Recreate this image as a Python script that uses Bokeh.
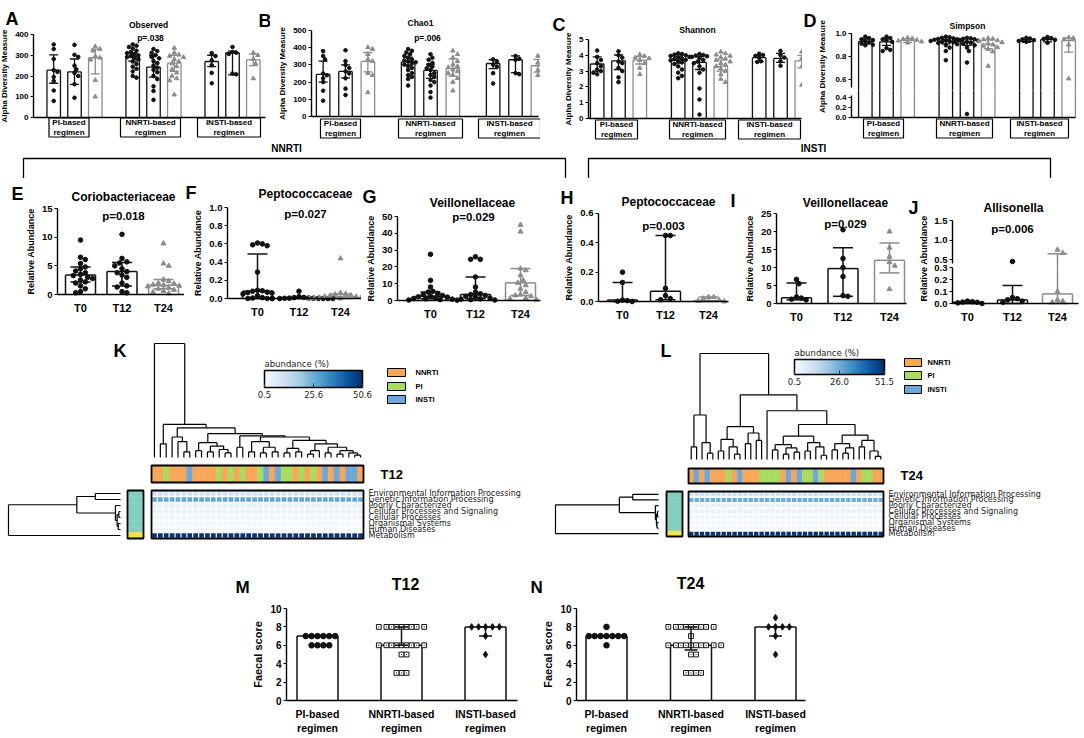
import math
from bokeh.plotting import figure
from bokeh.layouts import row, column
from bokeh.models import (Range1d, FixedTicker, NumeralTickFormatter, LinearAxis,
                          ColumnDataSource, LinearColorMapper, ColorBar)
from bokeh.transform import factor_cmap, transform
from bokeh.core.properties import value
from bokeh.embed import file_html
from bokeh.resources import INLINE
from bokeh.palettes import Blues256

FONT = "Liberation Sans"
HFONT = "DejaVu Sans"
BLACK = "#111111"
GREY = "#8c8c8c"

# ======================= DATA =======================
GROUP_LABELS = ["PI-based\nregimen", "NNRTI-based\nregimen", "INSTI-based\nregimen"]
TIME_LABELS = ["T0", "T12", "T24"]

# A  Observed  (PI T0,T12,T24 | NNRTI T0,T12,T24 | INSTI T0,T12,T24)
OBS_BAR = [228, 220, 288, 292, 243, 262, 270, 312, 278]
OBS_LO = [165, 160, 210, 272, 195, 222, 245, 205, 250]
OBS_HI = [302, 282, 330, 312, 300, 300, 300, 320, 305]
OBS_PTS = [
    [352, 330, 282, 228, 220, 195, 176, 130, 80],
    [350, 302, 292, 250, 232, 215, 200, 160, 95],
    [342, 330, 322, 295, 288, 278, 180, 100],
    [352, 346, 340, 332, 322, 316, 310, 305, 300, 296, 291, 286, 280, 270, 258, 245, 235, 222, 200, 192],
    [330, 320, 312, 300, 292, 285, 272, 262, 250, 240, 230, 218, 200, 185, 150, 128, 85],
    [335, 312, 302, 296, 290, 280, 270, 260, 246, 232, 216, 200, 188, 178, 110],
    [310, 296, 276, 252, 215, 165],
    [340, 316, 312, 306, 212, 208],
    [312, 300, 282, 260, 188],
]
# B  Chao1
CHAO_BAR = [245, 262, 320, 318, 268, 280, 308, 330, 295]
CHAO_LO = [200, 225, 260, 298, 222, 235, 278, 255, 258]
CHAO_HI = [322, 300, 372, 345, 305, 335, 330, 352, 332]
CHAO_PTS = [
    [380, 352, 332, 250, 240, 222, 200, 150, 92],
    [385, 322, 300, 282, 262, 250, 222, 162, 125],
    [402, 392, 362, 332, 322, 252, 240, 140],
    [392, 382, 372, 362, 352, 342, 332, 326, 320, 315, 310, 302, 292, 282, 270, 252, 240, 230, 218, 180],
    [362, 342, 330, 312, 300, 290, 280, 270, 252, 242, 230, 212, 200, 180, 142, 110],
    [382, 362, 342, 322, 302, 292, 285, 272, 262, 252, 240, 222, 200, 150],
    [332, 320, 302, 290, 252, 192],
    [352, 336, 330, 252, 246],
    [352, 330, 312, 290, 270, 240],
]
# C  Shannon
SHAN_BAR = [3.45, 3.65, 3.7, 3.7, 3.55, 3.3, 3.85, 3.8, 3.65]
SHAN_LO = [3.0, 3.1, 3.45, 3.5, 3.1, 3.0, 3.6, 3.55, 3.2]
SHAN_HI = [3.9, 4.02, 3.92, 3.95, 3.92, 3.7, 4.02, 4.12, 4.0]
SHAN_PTS = [
    [4.3, 3.9, 3.7, 3.5, 3.3, 3.1, 3.0, 2.9, 2.8],
    [4.25, 4.0, 3.85, 3.6, 3.5, 3.2, 3.0, 2.6, 2.3],
    [4.05, 3.95, 3.85, 3.8, 3.7, 3.5, 3.2, 2.8],
    [4.12, 4.08, 4.04, 4.0, 3.96, 3.9, 3.86, 3.8, 3.76, 3.72, 3.68, 3.62, 3.55, 3.45, 3.3, 3.1, 2.9, 2.7, 2.55],
    [4.08, 4.02, 3.98, 3.94, 3.9, 3.82, 3.7, 3.6, 3.5, 3.3, 3.1, 2.9, 1.9, 1.2, 0.25],
    [4.22, 4.12, 4.04, 3.96, 3.88, 3.78, 3.7, 3.6, 3.5, 3.4, 3.3, 3.15, 3.0, 2.8, 2.5, 2.3],
    [4.1, 4.02, 3.96, 3.85, 3.62, 3.58],
    [4.28, 4.02, 3.86, 3.62, 3.34],
    [4.22, 4.02, 3.82, 3.62, 3.3, 2.12],
]
# D  Simpson
SIMP_BAR = [0.935, 0.93, 0.942, 0.935, 0.93, 0.91, 0.935, 0.95, 0.94]
SIMP_LO = [0.912, 0.9, 0.925, 0.912, 0.9, 0.87, 0.925, 0.93, 0.84]
SIMP_HI = [0.955, 0.962, 0.958, 0.952, 0.958, 0.945, 0.948, 0.965, 0.962]
SIMP_PTS = [
    [0.975, 0.962, 0.952, 0.945, 0.935, 0.925, 0.915, 0.905, 0.9],
    [0.975, 0.962, 0.952, 0.942, 0.93, 0.875, 0.86, 0.85],
    [0.965, 0.958, 0.952, 0.946, 0.94, 0.932, 0.922],
    [0.975, 0.97, 0.965, 0.96, 0.955, 0.952, 0.948, 0.945, 0.942, 0.938, 0.934, 0.93, 0.926, 0.92, 0.91, 0.9, 0.88, 0.85, 0.77],
    [0.965, 0.96, 0.956, 0.952, 0.946, 0.94, 0.935, 0.93, 0.922, 0.912, 0.9, 0.88, 0.85, 0.75, 0.07],
    [0.962, 0.956, 0.95, 0.942, 0.935, 0.925, 0.915, 0.905, 0.895, 0.882, 0.865, 0.845, 0.72],
    [0.965, 0.958, 0.952, 0.945, 0.938, 0.93],
    [0.972, 0.962, 0.956, 0.948, 0.922],
    [0.968, 0.962, 0.952, 0.905, 0.61],
]
# E-G  NNRTI, T0 / T12 / T24
CORI_BAR = [3.4, 4.0, 1.6]
CORI_LO = [2.2, 1.5, 1.0]
CORI_HI = [4.8, 5.6, 2.6]
CORI_PTS = [
    [9.5, 6.5, 6.1, 5.4, 4.8, 4.5, 4.1, 3.8, 3.5, 3.3, 3.0, 2.8, 2.5, 2.2, 2.0, 1.5, 1.0, 0.5, 0.3],
    [10.5, 6.3, 5.7, 5.5, 5.0, 4.5, 4.0, 3.8, 3.4, 3.0, 2.0, 1.5, 1.3, 0.5, 0.3],
    [8.9, 5.4, 5.0, 2.6, 2.3, 2.0, 1.9, 1.7, 1.6, 1.5, 1.4, 1.2, 1.0, 0.8, 0.6, 0.4, 0.2],
]
PEPN_BAR = [0.08, 0.005, 0.02]
PEPN_LO = [0.0, 0.0, 0.0]
PEPN_HI = [0.49, 0.01, 0.05]
PEPN_PTS = [
    [0.61, 0.6, 0.59, 0.58, 0.29, 0.09, 0.085, 0.08, 0.07, 0.065, 0.06, 0.05, 0.03, 0.01, 0.005, 0.0, 0.0, 0.0],
    [0.08, 0.02, 0.012, 0.01, 0.006, 0.004, 0.003, 0.002, 0.001, 0.0, 0.0, 0.0, 0.0, 0.0],
    [0.44, 0.06, 0.05, 0.045, 0.035, 0.03, 0.02, 0.02, 0.015, 0.01, 0.01, 0.005, 0.003, 0.0, 0.0, 0.0],
]
VEIN_BAR = [2.5, 3.5, 10.5]
VEIN_LO = [1.0, 1.0, 3.0]
VEIN_HI = [5.0, 14.0, 19.0]
VEIN_PTS = [
    [27.5, 12.0, 8.0, 5.5, 5.0, 4.2, 3.5, 3.0, 2.5, 2.2, 2.0, 1.5, 1.2, 1.0, 0.8, 0.5, 0.3, 0.2],
    [26.0, 24.5, 24.5, 14.0, 8.0, 5.0, 4.0, 3.5, 3.0, 2.5, 2.0, 1.5, 1.0, 0.8, 0.5, 0.3],
    [45.0, 41.0, 19.0, 18.0, 15.0, 12.0, 10.5, 9.0, 7.0, 5.0, 3.5, 3.0, 2.5, 1.5, 1.0, 0.5],
]
# H-J  INSTI, T0 / T12 / T24
PEPI_BAR = [0.01, 0.07, 0.005]
PEPI_LO = [0.0, 0.012, 0.0]
PEPI_HI = [0.13, 0.45, 0.03]
PEPI_PTS = [[0.2, 0.13, 0.01, 0.006, 0.002, 0.0],
            [0.45, 0.45, 0.09, 0.04, 0.02, 0.012],
            [0.03, 0.03, 0.02, 0.01, 0.005, 0.0]]
VEII_BAR = [1.6, 9.7, 12.0]
VEII_LO = [1.0, 2.0, 8.5]
VEII_HI = [5.7, 15.5, 16.8]
VEII_PTS = [[6.7, 5.5, 1.8, 1.5, 1.2, 1.0],
            [20.5, 12.5, 10.0, 7.5, 2.2, 2.0],
            [20.0, 15.5, 13.0, 11.5, 10.5, 4.0]]
ALLI_BAR = [0.01, 0.03, 0.08]
ALLI_LO = [0.0, 0.0, 0.0]
ALLI_HI = [0.015, 0.15, 0.65]
ALLI_PTS = [[0.02, 0.015, 0.012, 0.01, 0.005, 0.0],
            [0.45, 0.05, 0.04, 0.03, 0.02, 0.01],
            [0.75, 0.67, 0.1, 0.03, 0.02, 0.01]]

# K / L heatmaps
HEAT_ROWS = ["Environmental Information Processing", "Genetic Information Processing",
             "Poorly Characterized", "Cellular Processes and Signaling", "Cellular Processes",
             "Organismal Systems", "Human Diseases", "Metabolism"]
K_HEAT = [10.0, 27.0, 5.0, 4.5, 3.0, 2.2, 1.8, 50.0]
L_HEAT = [10.5, 26.0, 5.0, 4.5, 3.0, 2.2, 1.8, 51.0]
SIDE_CLUSTER = ["cluster1", "cluster1", "cluster1", "cluster1", "cluster1", "cluster1", "cluster1", "cluster2"]
GROUP_NAMES = ["NNRTI", "PI", "INSTI"]
K_GROUPS = ["NNRTI", "NNRTI", "PI", "NNRTI", "NNRTI", "NNRTI", "INSTI", "NNRTI", "NNRTI", "NNRTI",
            "NNRTI", "PI", "NNRTI", "PI", "NNRTI", "PI", "NNRTI", "NNRTI", "PI", "INSTI",
            "NNRTI", "INSTI", "PI", "PI", "NNRTI", "PI", "NNRTI", "PI", "NNRTI", "INSTI",
            "NNRTI", "INSTI", "NNRTI", "INSTI", "INSTI", "NNRTI"]
L_GROUPS = ["NNRTI", "INSTI", "NNRTI", "INSTI", "NNRTI", "NNRTI", "NNRTI", "PI", "NNRTI", "INSTI",
            "NNRTI", "NNRTI", "NNRTI", "PI", "PI", "PI", "PI", "NNRTI", "INSTI", "NNRTI",
            "INSTI", "PI", "PI", "INSTI", "PI", "NNRTI", "NNRTI", "NNRTI", "NNRTI", "NNRTI",
            "INSTI", "NNRTI", "PI", "PI", "NNRTI", "NNRTI"]
o = None  # a leaf (leaves are numbered left to right)
K_C = (1.8, o, (1.4, o, (0.5, o, o)))
K_E = (1.3, (0.6, o, o), (1.0, (0.5, o, o), (0.7, o, (0.4, o, o))))
K_H1 = (1.4, (0.5, o, o), (0.9, (0.4, o, o), (0.5, o, o)))
K_H2 = (1.5, (0.8, (0.4, o, o), (0.5, o, o)),
        (1.2, (0.6, (0.3, o, o), o), (0.9, (0.4, o, o), (0.6, (0.3, o, o), (0.4, o, (0.2, o, o))))))
K_COL_TREE = (10.0, o, (2.9, (1.2, o, o), (2.6, K_C, (2.1, K_E, (1.9, (0.9, o, o), (1.8, K_H1, K_H2))))))
L_LEFT = (4.2, (1.2, o, o), (1.6, o, (0.6, o, o)))
L_A = (3.1, (1.9, (0.8, o, o), (1.2, o, (0.5, o, o))), (2.5, (1.5, o, o), (1.8, o, o)))
L_C1 = (2.2, (1.4, (0.9, o, o), (1.1, (0.5, o, o), (0.7, o, o))), (1.6, (0.8, o, o), (1.2, o, (0.4, o, o))))
L_C2 = (2.3, (1.5, (0.9, o, o), (1.1, (0.6, o, o), o)), (1.8, (1.2, o, o), (0.8, o, (0.3, o, o))))
L_COL_TREE = (10.0, L_LEFT, (6.1, L_A, (4.6, o, (3.3, L_C1, L_C2))))
K_ROW_TREE = (10.0, (3.9, (2.25, o, o), (0.45, o, (0.3, (0.15, o, o), (0.2, o, o)))), o)
L_ROW_TREE = (10.0, (3.8, (2.5, o, o), (0.3, o, (0.2, (0.1, o, o), (0.15, o, o)))), o)

# M / N faecal score (PI, NNRTI, INSTI)
M_BAR = [7, 6, 8]
M_LO = [7, 6, 7]
M_HI = [7, 8, 8]
M_PTS = [[7, 7, 7, 7, 7, 7, 6, 6, 6, 6],
         [8, 8, 8, 8, 8, 8, 8, 8, 8, 6, 6, 6, 6, 6, 6, 6, 6, 6, 5, 5, 3, 3, 3],
         [8, 8, 8, 8, 8, 7, 5]]
N_BAR = [7, 6, 8]
N_LO = [7, 5.5, 7]
N_HI = [7, 8, 8]
N_PTS = [[8, 7, 7, 7, 7, 7, 7, 7, 6],
         [8, 8, 8, 8, 8, 8, 8, 8, 8, 7, 6, 6, 6, 6, 6, 6, 6, 6, 6, 6, 5, 5, 3, 3, 3, 3],
         [9, 8, 8, 8, 8, 7, 5]]

# ======================= STYLE / HELPERS =======================
GROUP_COLORS = ["#f7a65a", "#a9dc5e", "#6ea7d8"]
SIDE_COLORS = ["#82cfbf", "#f3e34c"]
BIG = 1e9


def mkfig(box):
    """A figure whose frame is its whole canvas; its default ranges are page pixels (y negated)."""
    x0, y0, x1, y1 = box
    p = figure(width=x1 - x0, height=y1 - y0, x_range=Range1d(x0, x1), y_range=Range1d(-y1, -y0),
               x_axis_location=None, y_axis_location=None, min_border=0,
               output_backend="svg", toolbar_location=None)
    p.outline_line_color = None
    p.grid.visible = False
    return p


def add_xrange(p, box, xmap, name):
    a, A, u = xmap
    ex = dict(p.extra_x_ranges)
    ex[name] = Range1d(a + (box[0] - A) / u, a + (box[2] - A) / u)
    p.extra_x_ranges = ex


def add_yrange(p, box, ymap, name):
    b, B, k = ymap
    ey = dict(p.extra_y_ranges)
    ey[name] = Range1d(b + (B - box[3]) / k, b + (B - box[1]) / k)
    p.extra_y_ranges = ey


def ptext(p, items, size, align="center", baseline="middle", style="bold", font=FONT, angle=0.0):
    p.text(x=[it[1] for it in items], y=[-it[2] for it in items], text=[it[0] for it in items],
           text_font=value(font), text_font_size=value(size), text_font_style=style,
           text_align=align, text_baseline=baseline, angle=angle, text_color="black")


def style_axis(ax, fs, lab_fs=None, label=None, standoff=2):
    ax.axis_line_width = 1.4
    ax.axis_line_color = "black"
    ax.major_tick_line_width = 1.2
    ax.major_tick_line_color = "black"
    ax.major_tick_out = 3
    ax.major_tick_in = 0
    ax.minor_tick_line_color = None
    ax.major_label_text_font = FONT
    ax.major_label_text_font_style = "bold"
    ax.major_label_text_font_size = fs
    ax.major_label_text_color = "black"
    ax.major_label_standoff = standoff
    ax.axis_label_text_font = FONT
    ax.axis_label_text_font_style = "bold"
    ax.axis_label_text_color = "black"
    if label:
        ax.axis_label = label
        ax.axis_label_text_font_size = lab_fs
        ax.axis_label_standoff = 3


def add_yaxis(p, x_px, ticks, fmt, bounds, fs, label=None, lab_fs=None, yname="dy"):
    ax = LinearAxis(y_range_name=yname, fixed_location=x_px, bounds=bounds,
                    ticker=FixedTicker(ticks=ticks), formatter=NumeralTickFormatter(format=fmt))
    style_axis(ax, fs, lab_fs, label)
    p.add_layout(ax, "left")


def add_xaxis(p, y_px, ticks, overrides, bounds, fs, standoff=5):
    ax = LinearAxis(x_range_name="dx", fixed_location=-y_px, bounds=bounds, ticker=FixedTicker(ticks=ticks))
    style_axis(ax, fs, standoff=standoff)
    if overrides:
        ax.major_label_overrides = overrides
    ax.major_tick_line_color = None
    p.add_layout(ax, "below")


def swarm_offsets(vals, ypix, size, xunit, gap=1.05):
    placed = []
    out = [0.0] * len(vals)
    order = sorted(range(len(vals)), key=lambda i: -vals[i])
    step = size * gap * 0.5
    d2 = (size * gap) ** 2
    for i in order:
        y = ypix(vals[i])
        k = 0
        found = None
        while found is None:
            for c in ([0.0] if k == 0 else [k * step, -k * step]):
                if all((c - a) ** 2 + (y - b) ** 2 >= d2 for a, b in placed):
                    found = c
                    break
            k += 1
        placed.append((found, y))
        out[i] = found / xunit
    return out


def draw_bars(p, xs, bars, lo, hi, pts, cols, fills, marks, sizes, bar_w, cap_px, xunit, ypix, lw,
              yname="dy", ylo=-BIG, yhi=BIG):
    """Bars, swarm points and error bars for the part of the value axis between ylo and yhi."""
    kw = dict(x_range_name="dx", y_range_name=yname)
    hw = bar_w / 2.0
    fx, fb, ft = [], [], []
    ox0, oy0, ox1, oy1, oc = [], [], [], [], []
    for i, x in enumerate(xs):
        b0 = max(0.0, ylo)
        b1 = min(bars[i], yhi)
        if b1 > b0:
            fx.append(x)
            fb.append(b0)
            ft.append(b1)
            ox0 += [x - hw, x + hw]
            ox1 += [x - hw, x + hw]
            oy0 += [b0, b0]
            oy1 += [b1, b1]
            oc += [cols[i]] * 2
        if ylo <= bars[i] <= yhi:
            ox0.append(x - hw)
            ox1.append(x + hw)
            oy0.append(bars[i])
            oy1.append(bars[i])
            oc.append(cols[i])
    p.vbar(x=fx, bottom=fb, top=ft, width=bar_w, fill_color="white", line_color=None, **kw)
    p.segment(x0=ox0, y0=oy0, x1=ox1, y1=oy1, line_color=oc, line_width=lw, **kw)
    px, py, pc, pf, pm, ps = [], [], [], [], [], []
    for i, vals in enumerate(pts):
        offs = swarm_offsets(vals, ypix, sizes[i], xunit)
        for v, off in zip(vals, offs):
            if ylo <= v <= yhi:
                px.append(xs[i] + off)
                py.append(v)
                pc.append(cols[i])
                pf.append(fills[i])
                pm.append(marks[i])
                ps.append(sizes[i])
    src = ColumnDataSource(dict(x=px, y=py, c=pc, f=pf, m=pm, s=ps))
    p.scatter(x="x", y="y", marker="m", size="s", fill_color="f", line_color="c", line_width=1,
              source=src, **kw)
    cw = cap_px / 2.0 / xunit
    sx0, sy0, sx1, sy1, sc = [], [], [], [], []
    for i, x in enumerate(xs):
        if hi[i] > lo[i]:
            a = max(lo[i], ylo)
            b = min(hi[i], yhi)
            if b > a:
                sx0.append(x)
                sx1.append(x)
                sy0.append(a)
                sy1.append(b)
                sc.append(cols[i])
            for cap in (lo[i], hi[i]):
                if ylo <= cap <= yhi:
                    sx0.append(x - cw)
                    sx1.append(x + cw)
                    sy0.append(cap)
                    sy1.append(cap)
                    sc.append(cols[i])
    p.segment(x0=sx0, y0=sy0, x1=sx1, y1=sy1, line_color=sc, line_width=lw, **kw)


# ---------- A-D ----------
GSTEP = 3.8
AD_COLS = [BLACK, BLACK, GREY] * 3
AD_MARKS = ["circle", "circle", "triangle"] * 3
AD_SIZES = [3.6, 3.6, 4.4] * 3


def alpha_panel(box, axis_px, regions, pi_px, insti_px, bars, lo, hi, pts, ylabel, ypix,
                base_px, base_end, box_y, box_px, box_w):
    """regions: list of (range name, ymap, ylo, yhi, ticks, format, axis bounds)."""
    p = mkfig(box)
    u = (insti_px - pi_px) / (2 * GSTEP)
    add_xrange(p, box, (1, pi_px, u), "dx")
    xs = [g * GSTEP + t for g in range(3) for t in range(3)]
    for yn, ymap, ylo, yhi, ticks, fmt, bounds in regions:
        add_yrange(p, box, ymap, yn)
        yp = ypix if ypix is not None else (lambda v, kk=ymap[2]: v * kk)
        draw_bars(p, xs, bars, lo, hi, pts, AD_COLS, AD_COLS, AD_MARKS, AD_SIZES, 13.5 / u, 9, u, yp, 1.3,
                  yname=yn, ylo=ylo, yhi=yhi)
        add_yaxis(p, axis_px, ticks, fmt, bounds, "8px", "Alpha Diversity Measure" if ylabel else None,
                  "8px", yname=yn)
    add_xaxis(p, base_px, [], None, (1 + (axis_px - pi_px) / u, 1 + (base_end - pi_px) / u), "0px")
    p.rect(x=box_px, y=[-box_y] * 3, width=box_w, height=19, width_units="screen",
           height_units="screen", fill_color="white", line_color="black", line_width=1.2)
    p.text(x=box_px, y=[-box_y] * 3, text=GROUP_LABELS, text_align="center",
           text_baseline="middle", text_font=value(FONT), text_font_style="bold",
           text_font_size=value("8px"), text_line_height=1.05)
    return p


def d_ypix(v):
    return 27 + (v - 0.507) * 115 if v >= 0.507 else v * 50


pA = alpha_panel((0, 0, 270, 140), 33, [("dy", (0, 117, 83 / 400), -BIG, BIG, [0, 100, 200, 300, 400], "0", (0, 400))],
                 74, 232, OBS_BAR, OBS_LO, OBS_HI, OBS_PTS, True, None, 117, 265, 127,
                 [68.5, 150, 228.5], [40, 60, 63])
ptext(pA, [("A", 5, 18), ("B", 258, 20)], "18px", align="left", baseline="alphabetic")
ptext(pA, [("Observed", 148, 24), ("p=.038", 150, 37)], "8.5px")

pB = alpha_panel((270, 0, 540, 140), 311, [("dy", (0, 116, 86 / 500), -BIG, BIG, [0, 100, 200, 300, 400, 500], "0", (0, 500))],
                 345, 515, CHAO_BAR, CHAO_LO, CHAO_HI, CHAO_PTS, True, None, 116, 538, 128,
                 [340, 430, 509], [40, 64, 62])
ptext(pB, [("Chao1", 420, 22), ("p=.006", 427, 37)], "8.5px")

pC = alpha_panel((540, 0, 802, 140), 588, [("dy", (0, 118, 79 / 5), -BIG, BIG, [0, 1, 2, 3, 4, 5], "0", (0, 5))],
                 618, 780, SHAN_BAR, SHAN_LO, SHAN_HI, SHAN_PTS, True, None, 118, 801, 129,
                 [616, 697, 769], [42, 56, 62])
ptext(pC, [("C", 552, 24)], "18px", align="left", baseline="alphabetic")
ptext(pC, [("Shannon", 697, 29)], "8.5px")

pD = alpha_panel((802, 0, 1082, 140), 851,
                 [("up", (1.0, 33.3, 115), 0.507, BIG, [0.6, 0.8, 1.0], "0.0", (0.53, 1.0)),
                  ("lo", (0, 117, 50), -BIG, 0.54, [0.0, 0.2, 0.4], "0.0", (0, 0.44))],
                 886, 1047, SIMP_BAR, SIMP_LO, SIMP_HI, SIMP_PTS, False, d_ypix, 117, 1075, 128,
                 [883, 964, 1039], [40, 56, 58])
ptext(pD, [("D", 803, 20)], "18px", align="left", baseline="alphabetic")
ptext(pD, [("Simpson", 967, 25)], "8.5px")
ptext(pD, [("Alpha Diversity Measure", 822, 66)], "8px", angle=math.pi / 2)

# ---------- brackets ----------
pBR = mkfig((0, 140, 1082, 178))
pBR.multi_line(xs=[[23, 23, 565, 565], [588, 588, 1050, 1050]],
               ys=[[-178, -158, -158, -178], [-178, -158, -158, -178]], line_color="black", line_width=1.3)
ptext(pBR, [("NNRTI", 286, 148), ("INSTI", 813, 148)], "10px")

# ---------- E-J ----------
AB_COLS = [BLACK, BLACK, GREY]
AB_MARKS = ["circle", "circle", "triangle"]
AB_SIZES = [4.6, 4.6, 5.0]


def abund_panel(box, axis_px, bar0_px, step, regions, bars, lo, hi, pts, ypix=None, ylabel=True,
                base_px=None, base_end=None):
    p = mkfig(box)
    add_xrange(p, box, (0, bar0_px, step), "dx")
    for yn, ymap, ylo, yhi, ticks, fmt, bounds in regions:
        add_yrange(p, box, ymap, yn)
        yp = ypix if ypix is not None else (lambda v, kk=ymap[2]: v * kk)
        draw_bars(p, [0, 1, 2], bars, lo, hi, pts, AB_COLS, AB_COLS, AB_MARKS, AB_SIZES, 30.0 / step, 20,
                  step, yp, 1.5, yname=yn, ylo=ylo, yhi=yhi)
        add_yaxis(p, axis_px, ticks, fmt, bounds, "9.5px", "Relative Abundance" if ylabel else None, "9px",
                  yname=yn)
    add_xaxis(p, base_px, [0, 1, 2], {0: TIME_LABELS[0], 1: TIME_LABELS[1], 2: TIME_LABELS[2]},
              ((axis_px - bar0_px) / step, (base_end - bar0_px) / step), "11px", 4)
    return p


def j_ypix(v):
    return 39 + (v - 0.372) * 39 if v >= 0.372 else v * 120


pE = abund_panel((0, 178, 184, 326), 57, 80, 41.5, [("dy", (0, 294, 5.73), -BIG, BIG, [0, 5, 10, 15], "0", (0, 15))],
                 CORI_BAR, CORI_LO, CORI_HI, CORI_PTS, base_px=294, base_end=184)
ptext(pE, [("E", 11, 193)], "18px", align="left", baseline="alphabetic")
ptext(pE, [("Coriobacteriaceae", 123, 196)], "12px")
ptext(pE, [("p=0.018", 123, 215)], "11.5px")

pF = abund_panel((184, 178, 361, 326), 227, 257, 41.5,
                 [("dy", (0, 298, 91), -BIG, BIG, [0, 0.2, 0.4, 0.6, 0.8, 1.0], "0.0", (0, 1.0))],
                 PEPN_BAR, PEPN_LO, PEPN_HI, PEPN_PTS, base_px=298, base_end=361)
ptext(pF, [("F", 185, 192)], "18px", align="left", baseline="alphabetic")
ptext(pF, [("Peptococcaceae", 305, 193)], "12px")
ptext(pF, [("p=0.027", 305, 213)], "11.5px")

pG = abund_panel((361, 178, 545, 326), 397, 430, 45,
                 [("dy", (0, 300, 1.68), -BIG, BIG, [0, 10, 20, 30, 40, 50], "0", (0, 50))],
                 VEIN_BAR, VEIN_LO, VEIN_HI, VEIN_PTS, base_px=300, base_end=540)
ptext(pG, [("G", 362, 196)], "18px", align="left", baseline="alphabetic")
ptext(pG, [("Veillonellaceae", 472, 202)], "12px")
ptext(pG, [("p=0.029", 473, 216)], "11.5px")

pH = abund_panel((545, 178, 729, 326), 598, 622, 43,
                 [("dy", (0, 301, 146.7), -BIG, BIG, [0, 0.2, 0.4, 0.6], "0.0", (0, 0.6))],
                 PEPI_BAR, PEPI_LO, PEPI_HI, PEPI_PTS, base_px=301, base_end=728)
ptext(pH, [("H", 560, 197)], "18px", align="left", baseline="alphabetic")
ptext(pH, [("Peptococcaceae", 668, 201)], "12px")
ptext(pH, [("p=0.003", 663, 225)], "11.5px")

pI = abund_panel((729, 178, 907, 326), 776, 796, 46.5,
                 [("dy", (0, 303, 3.6), -BIG, BIG, [0, 5, 10, 15, 20, 25], "0", (0, 25))],
                 VEII_BAR, VEII_LO, VEII_HI, VEII_PTS, base_px=303, base_end=906)
ptext(pI, [("I", 730, 200)], "18px", align="left", baseline="alphabetic")
ptext(pI, [("Veillonellaceae", 845, 202)], "12px")
ptext(pI, [("p=0.029", 845, 223)], "11.5px")

pJ = abund_panel((907, 178, 1082, 326), 952, 967, 45,
                 [("up", (0.5, 259, 39), 0.372, BIG, [0.5, 1.0, 1.5], "0.0", (0.4, 1.5)),
                  ("lo", (0, 303, 120), -BIG, 0.325, [0, 0.1, 0.2, 0.3], "0.0", (0, 0.3))],
                 ALLI_BAR, ALLI_LO, ALLI_HI, ALLI_PTS, ypix=j_ypix, ylabel=False, base_px=303, base_end=1078)
ptext(pJ, [("J", 908, 207)], "18px", align="left", baseline="alphabetic")
ptext(pJ, [("Relative Abundance", 923, 258)], "9px", angle=math.pi / 2)
ptext(pJ, [("Allisonella", 1013, 207)], "12px")
ptext(pJ, [("p=0.006", 1012, 228)], "11.5px")

# ---------- K / L ----------


def dendro_xy(tree):
    x0, y0, x1, y1 = [], [], [], []
    counter = [0]

    def rec(node):
        if node is None:
            i = counter[0]
            counter[0] += 1
            return i + 0.5, 0.0
        h, a, b = node
        pa, ha = rec(a)
        pb, hb = rec(b)
        x0.extend([pa, pb, pa])
        y0.extend([ha, hb, h])
        x1.extend([pa, pb, pb])
        y1.extend([h, h, h])
        return (pa + pb) / 2.0, h

    rec(tree)
    return x0, y0, x1, y1


def heat_block(box, lay, col_tree, row_tree, groups, heat, vmax, cb_ticks):
    p = mkfig(box)
    n = len(groups)
    nr = len(heat)
    add_xrange(p, box, (0, lay["samp0"], lay["samp_u"]), "samp")
    add_yrange(p, box, (0, lay["cd0"], lay["cd_k"]), "cd")
    add_xrange(p, box, (10, lay["rd_root"], lay["rd_u"]), "rd")
    add_yrange(p, box, (0, lay["row0"], -lay["row_h"]), "rows")
    mapper = LinearColorMapper(palette=list(reversed(Blues256)), low=0.5, high=vmax)
    # column dendrogram
    a, b, c, d = dendro_xy(col_tree)
    p.segment(x0=a, y0=b, x1=c, y1=d, line_color="black", line_width=1.2, x_range_name="samp", y_range_name="cd")
    # group annotation bar
    src = ColumnDataSource(dict(x=[i + 0.5 for i in range(n)], g=groups))
    cm = factor_cmap("g", GROUP_COLORS, GROUP_NAMES)
    p.rect(x="x", y=-lay["an_y"], width=1, height=lay["an_h"], height_units="screen", source=src,
           fill_color=cm, line_color=cm, line_width=0.5, x_range_name="samp")
    p.rect(x=[n / 2.0], y=[-lay["an_y"]], width=n, height=lay["an_h"], height_units="screen",
           fill_color=None, line_color="black", line_width=1.8, x_range_name="samp")
    # heatmap cells
    hx, hy, hv = [], [], []
    for i in range(n):
        for r in range(nr):
            hx.append(i + 0.5)
            hy.append(r + 0.5)
            hv.append(heat[r])
    hsrc = ColumnDataSource(dict(x=hx, y=hy, v=hv))
    p.rect(x="x", y="y", width=0.8, height=0.72, source=hsrc, fill_color=transform("v", mapper),
           line_color=None, x_range_name="samp", y_range_name="rows")
    p.rect(x=[n / 2.0], y=[nr / 2.0], width=n, height=nr, fill_color=None, line_color="black",
           line_width=1.8, x_range_name="samp", y_range_name="rows")
    # row labels
    p.text(x=[lay["lab_x"]] * nr, y=[r + 0.5 for r in range(nr)], text=HEAT_ROWS, y_range_name="rows",
           text_font=value(HFONT), text_font_size=value("8px"), text_align="left",
           text_baseline="middle", text_color="#222222")
    # row dendrogram
    a, b, c, d = dendro_xy(row_tree)
    p.segment(x0=b, y0=a, x1=d, y1=c, line_color="black", line_width=1.2, x_range_name="rd", y_range_name="rows")
    # side cluster bar
    ssrc = ColumnDataSource(dict(y=[r + 0.5 for r in range(nr)], c=SIDE_CLUSTER))
    scm = factor_cmap("c", SIDE_COLORS, ["cluster1", "cluster2"])
    p.rect(x=lay["sb_x"], y="y", width=lay["sb_w"], height=1, width_units="screen", source=ssrc,
           fill_color=scm, line_color=scm, line_width=0.5, y_range_name="rows")
    p.rect(x=[lay["sb_x"]], y=[nr / 2.0], width=lay["sb_w"], height=nr, width_units="screen",
           fill_color=None, line_color="black", line_width=1.8, y_range_name="rows")
    # legend swatches
    p.rect(x=[lay["lg_x"]] * 3, y=[-v for v in lay["lg_y"]], width=lay["lg_w"], height=8,
           fill_color=GROUP_COLORS, line_color="black", line_width=1)
    ptext(p, [(GROUP_NAMES[i], lay["lg_tx"], lay["lg_y"][i]) for i in range(3)], "7.5px", align="left")
    # colour bar
    cb = ColorBar(color_mapper=mapper, orientation="horizontal", location=lay["cb_loc"],
                  width=lay["cb_w"], height=lay["cb_h"],
                  ticker=FixedTicker(ticks=cb_ticks), formatter=NumeralTickFormatter(format="0.0"),
                  title="abundance (%)", title_text_font=HFONT, title_text_font_size="8.5px",
                  title_text_font_style="normal", title_standoff=3, title_text_color="#222222",
                  major_label_text_font=HFONT, major_label_text_font_size="8.5px",
                  major_label_text_color="#222222",
                  label_standoff=3, bar_line_color="black", bar_line_width=1.5,
                  major_tick_line_color="#333333", major_tick_in=4, major_tick_out=0,
                  padding=0, margin=0, background_fill_alpha=0, border_line_color=None)
    p.add_layout(cb, "center")
    return p


K_LAY = dict(samp0=151, samp_u=212 / 36, cd0=457, cd_k=11.4, rd_root=8, rd_u=-11.2, row0=490, row_h=6.0,
             an_y=473.5, an_h=17, lab_x=368, sb_x=135, sb_w=16, lg_x=396, lg_w=18, lg_y=[372, 386, 399],
             lg_tx=415, cb_loc=(264, 148), cb_w=98, cb_h=17)
L_LAY = dict(samp0=688, samp_u=195 / 36, cd0=459, cd_k=10.6, rd_root=555, rd_u=-10.3, row0=491, row_h=5.625,
             an_y=475.5, an_h=15, lab_x=888, sb_x=674, sb_w=16, lg_x=912.5, lg_w=17, lg_y=[362, 375, 389],
             lg_tx=927, cb_loc=(254, 161), cb_w=90, cb_h=15)

pK = heat_block((0, 326, 540, 548), K_LAY, K_COL_TREE, K_ROW_TREE, K_GROUPS, K_HEAT, 50.6, [0.5, 25.6, 50.6])
ptext(pK, [("K", 113, 350)], "18px", align="left", baseline="alphabetic")
ptext(pK, [("T12", 380, 474)], "13px", align="left")
pL = heat_block((540, 326, 1082, 548), L_LAY, L_COL_TREE, L_ROW_TREE, L_GROUPS, L_HEAT, 51.5, [0.5, 26.0, 51.5])
ptext(pL, [("L", 660, 350)], "18px", align="left", baseline="alphabetic")
ptext(pL, [("T24", 900, 475)], "13px", align="left")

# ---------- M / N ----------
MN_COLS = [BLACK, BLACK, BLACK]
MN_FILLS = [BLACK, "white", BLACK]
MN_MARKS = ["circle", "square_dot", "diamond"]
MN_SIZES = [5.6, 4.8, 6.6]


def faecal_panel(box, axis_px, base_end, bar0_px, step, bars, lo, hi, pts):
    p = mkfig(box)
    add_xrange(p, box, (0, bar0_px, step), "dx")
    add_yrange(p, box, (0, 700, 9.2), "dy")
    draw_bars(p, [0, 1, 2], bars, lo, hi, pts, MN_COLS, MN_FILLS, MN_MARKS, MN_SIZES, 41.0 / step, 13,
              step, lambda v: v * 9.2, 1.5)
    add_yaxis(p, axis_px, [0, 2, 4, 6, 8, 10], "0", (0, 10), "10px", "Faecal score", "11px")
    add_xaxis(p, 700, [0, 1, 2], {0: GROUP_LABELS[0], 1: GROUP_LABELS[1], 2: GROUP_LABELS[2]},
              ((axis_px - bar0_px) / step, (base_end - bar0_px) / step), "10.5px", 4)
    return p


pM = faecal_panel((0, 548, 525, 736), 286, 517, 317, 84, M_BAR, M_LO, M_HI, M_PTS)
ptext(pM, [("M", 235, 587)], "17px", align="left", baseline="alphabetic")
ptext(pM, [("T12", 405, 584)], "16px")
pN = faecal_panel((525, 548, 1082, 736), 576, 805, 606, 84.5, N_BAR, N_LO, N_HI, N_PTS)
ptext(pN, [("N", 530, 587)], "17px", align="left", baseline="alphabetic")
ptext(pN, [("T24", 690, 583)], "16px")

# ---------- layout ----------
strip1 = row([pA, pB, pC, pD], spacing=0)
strip2 = row([pE, pF, pG, pH, pI, pJ], spacing=0)
strip3 = row([pK, pL], spacing=0)
strip4 = row([pM, pN], spacing=0)
page = column([strip1, pBR, strip2, strip3, strip4], spacing=0)

open("out.html", "w").write(file_html(page, INLINE))
